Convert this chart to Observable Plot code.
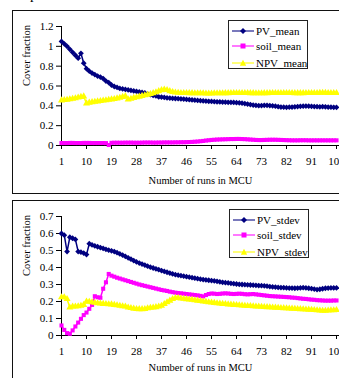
<!DOCTYPE html>
<html>
<head>
<meta charset="utf-8">
<script src="https://cdn.jsdelivr.net/npm/d3@7"></script>
<script src="https://cdn.jsdelivr.net/npm/@observablehq/plot@0.6"></script>
<style>
  html, body { margin: 0; padding: 0; background: #fff; }
  body { width: 339px; height: 378px; overflow: hidden; position: relative; font-family: "Liberation Serif", "Times New Roman", serif; }
  .frame { position: absolute; box-sizing: border-box; border: 1.5px solid #111; }
  .chart { position: absolute; left: 0; width: 339px; }
  .leg { position: absolute; box-sizing: border-box; width: 80px; height: 49px; border: 1px solid #222; background: #fff; }
  .row { position: absolute; left: 3px; height: 12px; display: flex; align-items: center; white-space: nowrap; }
  .row span { font-size: 11px; line-height: 12px; margin-left: 2px; color: #000; }
  .frag { position: absolute; left: 30px; top: -13px; font-size: 15px; line-height: 15px; }
</style>
</head>
<body>
<div class="frag">p</div>
<div class="frame" style="left:12px;top:9.5px;width:400px;height:184px"></div>
<div class="frame" style="left:12px;top:200px;width:400px;height:300px"></div>
<div id="c1" class="chart" style="top:0px"></div>
<div id="c2" class="chart" style="top:188px"></div>
<div id="leg1" class="leg" style="left:228px;top:20px"></div>
<div id="leg2" class="leg" style="left:229px;top:209px"></div>
<script>
// x categories: number of runs in MCU
const runs = d3.range(1, 101);
const xTicks = [1, 10, 19, 28, 37, 46, 55, 64, 73, 82, 91, 100];
const yTicksTop = [0, 0.2, 0.4, 0.6, 0.8, 1, 1.2];
const yTicksBottom = [0, 0.1, 0.2, 0.3, 0.4, 0.5, 0.6, 0.7];
const seriesTop = ["PV_mean", "soil_mean", "NPV_mean"];
const seriesBottom = ["PV_stdev", "soil_stdev", "NPV_stdev"];
const colors = ["#000080", "#FF00FF", "#FFFF00"];

const pvMean = [
  1.05,1.025,1.00,0.97,0.94,0.91,0.88,0.93,0.83,0.775,
  0.75,0.73,0.715,0.70,0.69,0.675,0.65,0.635,0.61,0.595,
  0.585,0.575,0.57,0.565,0.56,0.555,0.55,0.545,0.54,0.535,
  0.53,0.52,0.512,0.505,0.50,0.49,0.488,0.485,0.48,0.478,
  0.476,0.474,0.472,0.47,0.468,0.465,0.462,0.46,0.457,0.455,
  0.452,0.45,0.448,0.446,0.444,0.442,0.44,0.439,0.438,0.437,
  0.436,0.435,0.434,0.432,0.43,0.427,0.423,0.418,0.413,0.408,
  0.404,0.402,0.403,0.405,0.405,0.403,0.40,0.396,0.392,0.388,
  0.386,0.385,0.386,0.388,0.39,0.393,0.395,0.397,0.398,0.397,
  0.395,0.393,0.391,0.39,0.391,0.39,0.388,0.386,0.385,0.385
];
const soilMean = [
  0.025,0.025,0.025,0.026,0.026,0.025,0.025,0.025,0.026,0.026,
  0.026,0.025,0.025,0.025,0.025,0.025,0.024,0.005,0.027,0.028,
  0.028,0.028,0.028,0.029,0.029,0.029,0.028,0.028,0.028,0.029,
  0.03,0.03,0.03,0.029,0.029,0.03,0.03,0.031,0.031,0.031,
  0.031,0.032,0.032,0.033,0.033,0.034,0.035,0.036,0.038,0.04,
  0.043,0.046,0.05,0.053,0.056,0.058,0.06,0.061,0.062,0.063,
  0.064,0.065,0.065,0.066,0.066,0.065,0.064,0.062,0.06,0.058,
  0.056,0.055,0.055,0.056,0.057,0.058,0.058,0.058,0.057,0.056,
  0.055,0.054,0.053,0.052,0.052,0.052,0.053,0.053,0.053,0.052,
  0.052,0.052,0.052,0.052,0.052,0.052,0.052,0.052,0.052,0.052
];
const npvMean = [
  0.455,0.458,0.462,0.467,0.472,0.477,0.483,0.49,0.495,0.425,
  0.432,0.437,0.441,0.445,0.449,0.453,0.457,0.461,0.465,0.469,
  0.475,0.482,0.49,0.498,0.465,0.472,0.48,0.487,0.493,0.50,
  0.506,0.513,0.52,0.528,0.537,0.548,0.558,0.565,0.56,0.548,
  0.54,0.535,0.532,0.53,0.53,0.529,0.528,0.528,0.527,0.527,
  0.526,0.526,0.525,0.525,0.525,0.526,0.526,0.527,0.527,0.528,
  0.528,0.529,0.529,0.53,0.53,0.53,0.529,0.529,0.528,0.528,
  0.527,0.527,0.527,0.528,0.528,0.529,0.53,0.53,0.53,0.53,
  0.53,0.53,0.529,0.529,0.528,0.528,0.528,0.528,0.529,0.529,
  0.53,0.53,0.53,0.531,0.531,0.531,0.53,0.53,0.53,0.53
];
const pvStdev = [
  0.60,0.59,0.494,0.578,0.572,0.565,0.494,0.49,0.485,0.476,
  0.54,0.533,0.527,0.522,0.517,0.512,0.507,0.502,0.498,0.494,
  0.487,0.48,0.473,0.465,0.457,0.449,0.441,0.433,0.426,0.42,
  0.414,0.408,0.402,0.397,0.392,0.387,0.382,0.377,0.372,0.367,
  0.362,0.358,0.355,0.352,0.349,0.346,0.343,0.34,0.337,0.334,
  0.331,0.329,0.327,0.325,0.323,0.321,0.319,0.316,0.313,0.311,
  0.309,0.307,0.305,0.303,0.301,0.30,0.299,0.298,0.297,0.296,
  0.295,0.294,0.293,0.292,0.29,0.288,0.286,0.285,0.283,0.282,
  0.281,0.28,0.279,0.279,0.278,0.279,0.28,0.281,0.28,0.278,
  0.276,0.273,0.27,0.272,0.275,0.278,0.279,0.28,0.28,0.28
];
const soilStdev = [
  0.059,0.033,0.014,0.01,0.03,0.053,0.076,0.098,0.12,0.135,
  0.157,0.18,0.231,0.225,0.222,0.275,0.313,0.362,0.352,0.346,
  0.34,0.335,0.33,0.325,0.32,0.315,0.31,0.305,0.30,0.296,
  0.292,0.288,0.284,0.28,0.276,0.272,0.268,0.265,0.262,0.258,
  0.255,0.252,0.25,0.248,0.246,0.244,0.242,0.24,0.238,0.236,
  0.233,0.23,0.238,0.244,0.247,0.246,0.244,0.245,0.247,0.248,
  0.247,0.245,0.244,0.245,0.246,0.245,0.243,0.242,0.243,0.244,
  0.242,0.24,0.238,0.236,0.234,0.232,0.231,0.23,0.229,0.228,
  0.227,0.226,0.225,0.223,0.222,0.22,0.218,0.216,0.215,0.213,
  0.211,0.21,0.208,0.207,0.206,0.205,0.205,0.205,0.206,0.206
];
const npvStdev = [
  0.225,0.225,0.215,0.165,0.17,0.17,0.172,0.175,0.18,0.20,
  0.198,0.195,0.193,0.19,0.188,0.186,0.185,0.184,0.183,0.18,
  0.178,0.175,0.172,0.17,0.165,0.162,0.158,0.156,0.155,0.155,
  0.156,0.16,0.163,0.165,0.167,0.17,0.175,0.185,0.195,0.205,
  0.215,0.22,0.22,0.218,0.216,0.214,0.212,0.21,0.207,0.205,
  0.203,0.20,0.198,0.196,0.194,0.192,0.19,0.188,0.186,0.185,
  0.183,0.182,0.18,0.179,0.178,0.176,0.175,0.174,0.173,0.172,
  0.171,0.17,0.169,0.168,0.167,0.166,0.165,0.164,0.163,0.162,
  0.161,0.16,0.159,0.158,0.157,0.156,0.155,0.154,0.153,0.152,
  0.151,0.15,0.148,0.147,0.146,0.146,0.147,0.148,0.149,0.15
];

const symbols = ["diamond2", "square", "triangle"];
const sizes = [2.6, 2.3, 2.6];
const FONT = "'Liberation Serif', 'Times New Roman', serif";

function rows(vals) { return runs.map((r, i) => ({run: r, v: vals[i]})); }

function seriesMarks(list) {
  const marks = [];
  list.forEach((vals, k) => {
    const data = rows(vals);
    marks.push(Plot.line(data, {x: "run", y: "v", stroke: colors[k], strokeWidth: 1.5}));
    marks.push(Plot.dot(data, {x: "run", y: "v", symbol: symbols[k], fill: colors[k], r: sizes[k]}));
  });
  return marks;
}

function makeChart(opts) {
  return Plot.plot({
    width: 339,
    height: opts.height,
    marginTop: opts.top,
    marginBottom: opts.bottom,
    marginLeft: 61,
    marginRight: 0,
    x: {domain: [1, 100], range: [61, 336]},
    y: {domain: opts.ydomain},
    style: {fontFamily: FONT, fontSize: "11px", color: "#000", background: "transparent", overflow: "visible"},
    marks: [
      Plot.ruleX([1], {stroke: "#000", strokeWidth: 1}),
      Plot.ruleY([0], {stroke: "#000", strokeWidth: 1}),
      Plot.axisY({ticks: opts.yticks, tickFormat: d => String(d), tickSize: 5, tickPadding: 3, label: null, fontSize: 11}),
      Plot.axisX({ticks: xTicks, tickFormat: d => String(d), tickSize: 4, tickPadding: 8, label: null, fontSize: 11}),
      ...seriesMarks(opts.series),
      Plot.text(["Cover fraction"], {frameAnchor: "left", dx: -35, rotate: -90, fontSize: 10.5, fill: "#000"}),
      Plot.text(["Number of runs in MCU"], {frameAnchor: "bottom", dy: opts.titleDy, fontSize: 10.5, fill: "#000"})
    ]
  });
}

document.getElementById("c1").append(makeChart({
  height: 195, top: 26, bottom: 50, ydomain: [0, 1.2], yticks: yTicksTop,
  series: [pvMean, soilMean, npvMean], titleDy: 38
}));
document.getElementById("c2").append(makeChart({
  height: 190, top: 28, bottom: 43, ydomain: [0, 0.7], yticks: yTicksBottom,
  series: [pvStdev, soilStdev, npvStdev], titleDy: 35
}));

function swatch(k) {
  const shapes = [
    '<path d="M11,1 L14,4 L11,7 L8,4Z" fill="' + colors[0] + '"/>',
    '<rect x="8.5" y="1.5" width="5" height="5" fill="' + colors[1] + '"/>',
    '<path d="M11,0.8 L14.2,6.8 L7.8,6.8Z" fill="' + colors[2] + '"/>'
  ];
  return '<svg width="22" height="8" viewBox="0 0 22 8"><line x1="0" x2="22" y1="4" y2="4" stroke="' + colors[k] +
    '" stroke-opacity="0.7" stroke-width="1.5"/>' + shapes[k] + '</svg>';
}
function legend(id, names) {
  const el = document.getElementById(id);
  const ys = [9.5, 25, 41.5];
  names.forEach((n, k) => {
    const r = document.createElement("div");
    r.className = "row";
    r.style.top = (ys[k] - 6) + "px";
    r.innerHTML = swatch(k) + "<span>" + n + "</span>";
    el.append(r);
  });
}
legend("leg1", seriesTop);
legend("leg2", seriesBottom);
</script>
</body>
</html>
